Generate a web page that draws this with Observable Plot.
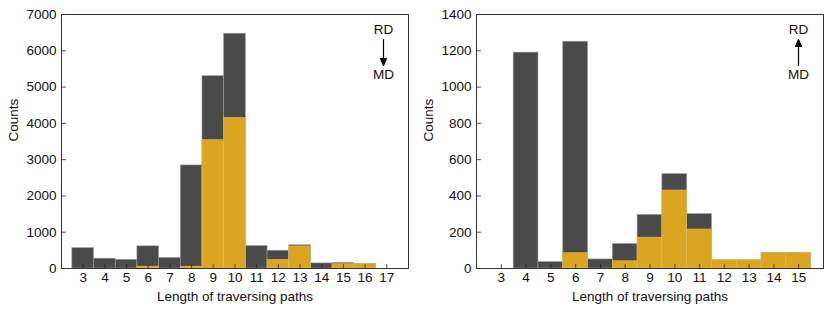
<!DOCTYPE html>
<html>
<head>
<meta charset="utf-8">
<script src="https://cdn.jsdelivr.net/npm/d3@7"></script>
<script src="https://cdn.jsdelivr.net/npm/@observablehq/plot@0.6"></script>
<style>
  body { margin: 0; background: white; }
  #wrap { display: flex; width: 830px; }
</style>
</head>
<body>
<div id="wrap"></div>
<script>
// Left panel (RD -> MD)
const leftLengths = [3, 4, 5, 6, 7, 8, 9, 10, 11, 12, 13, 14, 15, 16, 17];
const leftTotal   = [560, 270, 240, 610, 290, 2840, 5300, 6470, 620, 490, 640, 140, 150, 130, 0];
const leftSubset  = [0, 0, 0, 50, 0, 50, 3540, 4150, 0, 240, 610, 0, 120, 130, 0];
const leftYTicks  = [0, 1000, 2000, 3000, 4000, 5000, 6000, 7000];

// Right panel (MD -> RD)
const rightLengths = [3, 4, 5, 6, 7, 8, 9, 10, 11, 12, 13, 14, 15];
const rightTotal   = [0, 1190, 35, 1250, 50, 135, 295, 520, 300, 45, 45, 85, 85];
const rightSubset  = [0, 0, 0, 85, 0, 40, 170, 430, 215, 45, 45, 85, 85];
const rightYTicks  = [0, 200, 400, 600, 800, 1000, 1200, 1400];

const xLabel = "Length of traversing paths";
const yLabel = "Counts";

const DARK = "#4a4a4a";
const GOLD = "#daa520";
const FS = 13.5;

const lineShape = { draw(ctx, l) { ctx.moveTo(0, 0); ctx.lineTo(0, -l); } };
const arrowShape = {
  draw(ctx, l) {
    ctx.moveTo(0, 0); ctx.lineTo(0, -l + 6);
    ctx.moveTo(-3, -l + 7); ctx.lineTo(0, -l); ctx.lineTo(3, -l + 7); ctx.closePath();
  }
};

function panel(lengths, total, subset, yTicks, yMax, xDomain, arrowUp) {
  const rows = lengths.map((len, i) => ({len, total: total[i], subset: subset[i]}));
  return Plot.plot({
    width: 415,
    height: 312,
    marginLeft: 61,
    marginRight: 7,
    marginTop: 14,
    marginBottom: 44,
    style: {fontFamily: "'Liberation Sans', Arial, Helvetica, sans-serif", fontSize: FS + "px", background: "white", color: "#111"},
    x: {domain: xDomain},
    y: {domain: [0, yMax]},
    marks: [
      Plot.rectY(rows.filter(d => d.total > 0), {x1: d => d.len - 0.5, x2: d => d.len + 0.5, y: "total", fill: DARK, stroke: "#9a9a9a", strokeWidth: 0.6}),
      Plot.rectY(rows.filter(d => d.subset > 0), {x1: d => d.len - 0.5, x2: d => d.len + 0.5, y: "subset", fill: GOLD, stroke: "#e8c060", strokeWidth: 0.5}),
      Plot.vector(lengths, {x: d => d, frameAnchor: "bottom", length: 4, anchor: "start", rotate: 0, shape: lineShape, stroke: "#222", strokeWidth: 0.8}),
      Plot.vector(yTicks, {y: d => d, frameAnchor: "left", length: 4, anchor: "start", rotate: 90, shape: lineShape, stroke: "#222", strokeWidth: 0.8}),
      Plot.frame({stroke: "#333", strokeWidth: 1}),
      Plot.axisX(lengths, {tickSize: 0, tickPadding: 4, label: null, fontSize: FS, tickFormat: "d"}),
      Plot.axisY(yTicks, {tickSize: 0, tickPadding: 5, label: null, fontSize: FS, tickFormat: "d"}),
      Plot.text([xLabel], {text: d => d, frameAnchor: "bottom", dy: 28, lineAnchor: "middle", fontSize: FS}),
      Plot.text([yLabel], {text: d => d, frameAnchor: "left", dx: -48, rotate: -90, lineAnchor: "middle", fontSize: FS}),
      Plot.text(["RD"], {text: d => d, frameAnchor: "top-right", dx: -25, dy: 15, textAnchor: "middle", lineAnchor: "middle", fontSize: FS}),
      Plot.text(["MD"], {text: d => d, frameAnchor: "top-right", dx: -25, dy: 60, textAnchor: "middle", lineAnchor: "middle", fontSize: FS}),
      Plot.vector([0], {frameAnchor: "top-right", dx: -25, dy: arrowUp ? 51 : 25, length: 26, anchor: "start", rotate: arrowUp ? 0 : 180, shape: arrowShape, stroke: "#000", fill: "#000", strokeWidth: 1.2})
    ]
  });
}

const wrap = document.getElementById("wrap");
wrap.appendChild(panel(leftLengths, leftTotal, leftSubset, leftYTicks, 7000, [2, 18], false));
wrap.appendChild(panel(rightLengths, rightTotal, rightSubset, rightYTicks, 1400, [2, 16], true));
</script>
</body>
</html>
